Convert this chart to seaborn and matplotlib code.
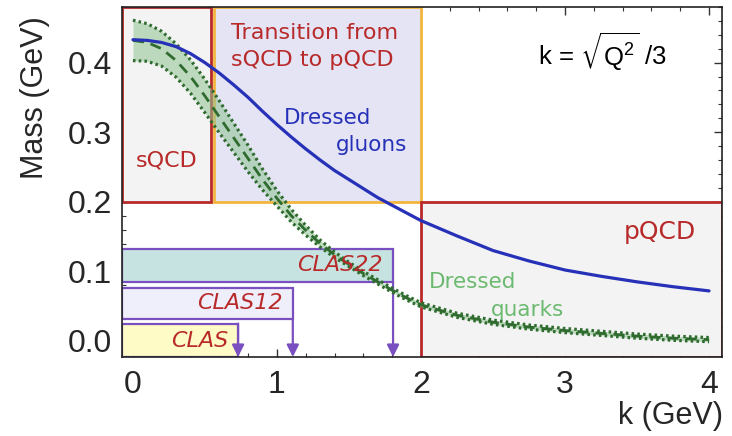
import numpy as np
import pandas as pd
import matplotlib
matplotlib.use("Agg")
import matplotlib.pyplot as plt
import seaborn as sns
from matplotlib.patches import Rectangle

# ---------------- data ----------------
k_gluon = [0.0, 0.1, 0.2, 0.3, 0.4, 0.5, 0.6, 0.7, 0.8, 0.9, 1.0, 1.1, 1.2, 1.3, 1.4, 1.5,
           1.6, 1.7, 1.8, 1.9, 2.0, 2.25, 2.5, 2.75, 3.0, 3.25, 3.5, 3.75, 4.0]
m_gluon = [0.433, 0.432, 0.429, 0.423, 0.413, 0.400, 0.385, 0.368, 0.350, 0.330, 0.311, 0.293,
           0.276, 0.260, 0.245, 0.232, 0.219, 0.206, 0.195, 0.184, 0.173, 0.151, 0.130, 0.115,
           0.102, 0.093, 0.085, 0.078, 0.072]

k_quark = [0.0, 0.1, 0.2, 0.3, 0.4, 0.5, 0.6, 0.7, 0.8, 0.9, 1.0, 1.1, 1.2, 1.3, 1.4, 1.5,
           1.6, 1.7, 1.8, 1.9, 2.0, 2.25, 2.5, 2.75, 3.0, 3.25, 3.5, 3.75, 4.0]
m_quark = [0.432, 0.429, 0.420, 0.403, 0.380, 0.352, 0.322, 0.292, 0.262, 0.232, 0.205, 0.180,
           0.159, 0.140, 0.124, 0.110, 0.097, 0.085, 0.073, 0.062, 0.052, 0.037, 0.027, 0.020,
           0.015, 0.011, 0.007, 0.004, 0.002]
err_quark = [0.029, 0.027, 0.025, 0.024, 0.024, 0.024, 0.023, 0.021, 0.019, 0.015, 0.011, 0.009,
             0.007, 0.005, 0.004, 0.003, 0.003, 0.003, 0.003, 0.003, 0.003, 0.003, 0.003, 0.003,
             0.003, 0.003, 0.003, 0.003, 0.003]

clas_names = ["CLAS22", "CLAS12", "CLAS"]
clas_kmax = [1.806, 1.11, 0.73]
clas_ylo = [0.085, 0.032, None]
clas_yhi = [0.132, 0.076, 0.025]
clas_fill = ["#c7e3e1", "#efeefb", "#fffbc6"]

x_ticks = [0, 1, 2, 3, 4]
y_ticks = [0.0, 0.1, 0.2, 0.3, 0.4]

XMIN, XMAX = -0.076, 4.09
YMIN, YMAX = -0.023, 0.48

RED = "#b82a2a"
PURPLE = "#7a4fbf"
BLUE = "#2631b8"
DKGREEN = "#2f6b2f"
LTGREEN = "#6cba70"

gluon_df = pd.DataFrame({"k": k_gluon, "m": m_gluon})
quark_df = pd.DataFrame({"k": k_quark, "m": m_quark, "e": err_quark})
quark_df["lo"] = quark_df["m"] - quark_df["e"]
quark_df["hi"] = quark_df["m"] + quark_df["e"]

# ---------------- figure ----------------
sns.set_style("ticks")
plt.rcParams["font.family"] = ["Liberation Sans", "DejaVu Sans"]

fig = plt.figure(figsize=(7.32, 4.36), dpi=100)
ax = fig.add_axes([122 / 732, 1 - 357 / 436, 600 / 732, 350 / 436])
ax.set_xlim(XMIN, XMAX)
ax.set_ylim(YMIN, YMAX)

# region boxes
ax.add_patch(Rectangle((XMIN, 0.2), 0.545 - XMIN, YMAX - 0.2, facecolor="#f3f3f3",
                       edgecolor=RED, lw=2.0, zorder=1))
ax.add_patch(Rectangle((0.56, 0.2), 2.0 - 0.56, YMAX - 0.2, facecolor="#e4e4f4",
                       edgecolor="#f2b640", lw=2.0, zorder=1))
ax.add_patch(Rectangle((2.0, YMIN), XMAX - 2.0, 0.2 - YMIN, facecolor="#f3f3f3",
                       edgecolor=RED, lw=2.0, zorder=1))

# CLAS bars
for name, kmax, ylo, yhi, fc in zip(clas_names, clas_kmax, clas_ylo, clas_yhi, clas_fill):
    lo = YMIN if ylo is None else ylo
    ax.add_patch(Rectangle((XMIN, lo), kmax - XMIN, yhi - lo, facecolor=fc,
                           edgecolor=PURPLE, lw=1.6, zorder=1.5))
    start = yhi if ylo is None else ylo
    ax.annotate("", xy=(kmax, YMIN), xytext=(kmax, start),
                arrowprops=dict(arrowstyle="-|>", color=PURPLE, lw=1.6,
                                mutation_scale=18, shrinkA=0, shrinkB=0),
                zorder=1.6)
    ty = (lo + yhi) / 2 if ylo is not None else 0.0
    ax.text(kmax - 0.07, ty, name, color=RED, fontsize=16, style="italic",
            family="DejaVu Sans", ha="right", va="center", zorder=3)

# quark band
ax.fill_between(quark_df["k"], quark_df["lo"], quark_df["hi"], color="#8fc492",
                alpha=0.55, lw=0, zorder=2)
sns.lineplot(data=quark_df, x="k", y="hi", ax=ax, color=DKGREEN, lw=2.3,
             linestyle=(0, (0.8, 1.0)), zorder=2.2)
sns.lineplot(data=quark_df, x="k", y="lo", ax=ax, color=DKGREEN, lw=2.3,
             linestyle=(0, (0.8, 1.0)), zorder=2.2)
sns.lineplot(data=quark_df, x="k", y="m", ax=ax, color=DKGREEN, lw=2.0,
             linestyle=(0, (4, 2.5)), zorder=2.2)

# gluon line
sns.lineplot(data=gluon_df, x="k", y="m", ax=ax, color=BLUE, lw=2.3, zorder=2.5)

# annotations
ax.text(1.26, 0.442, "Transition from", color=RED, fontsize=16, family="DejaVu Sans",
        ha="center", va="center", zorder=3)
ax.text(1.245, 0.404, "sQCD to pQCD", color=RED, fontsize=16, family="DejaVu Sans",
        ha="center", va="center", zorder=3)
ax.text(0.236, 0.26, "sQCD", color=RED, fontsize=16, family="DejaVu Sans",
        ha="center", va="center", zorder=3)
ax.text(3.66, 0.157, "pQCD", color=RED, fontsize=18, family="DejaVu Sans",
        ha="center", va="center", zorder=3)
ax.text(1.35, 0.32, "Dressed", color=BLUE, fontsize=15.5, family="DejaVu Sans",
        ha="center", va="center", zorder=3)
ax.text(1.66, 0.281, "gluons", color=BLUE, fontsize=15.5, family="DejaVu Sans",
        ha="center", va="center", zorder=3)
ax.text(2.36, 0.085, "Dressed", color=LTGREEN, fontsize=15.5, family="DejaVu Sans",
        ha="center", va="center", zorder=3)
ax.text(2.74, 0.045, "quarks", color=LTGREEN, fontsize=15.5, family="DejaVu Sans",
        ha="center", va="center", zorder=3)
ax.text(3.26, 0.416, r"k = $\sqrt{\mathregular{Q^2}}$ /3", color="black", fontsize=18.5,
        ha="center", va="center", zorder=3)

ax.set_xticks(x_ticks)
ax.set_yticks(y_ticks)
ax.set_xticklabels([str(v) for v in x_ticks])
ax.set_yticklabels([f"{v:.1f}" for v in y_ticks])
ax.xaxis.set_minor_locator(matplotlib.ticker.MultipleLocator(0.2))
ax.yaxis.set_minor_locator(matplotlib.ticker.MultipleLocator(0.02))
ax.tick_params(which="both", direction="in", top=True, right=True, color="#333333")
ax.tick_params(which="major", length=6, width=1.0, labelsize=23)
ax.tick_params(which="minor", length=3, width=0.8)
ax.tick_params(axis="x", pad=9)
ax.tick_params(axis="y", pad=7)

for s in ax.spines.values():
    s.set_color("#222222")
    s.set_linewidth(1.2)
    s.set_zorder(4)

ax.set_xlabel("k (GeV)", fontsize=22)
ax.set_ylabel("Mass (GeV)", fontsize=22)
ax.xaxis.set_label_coords(0.915, -0.125)
ax.yaxis.set_label_coords(-0.12, 0.74)

fig.savefig("out.png", dpi=100)
